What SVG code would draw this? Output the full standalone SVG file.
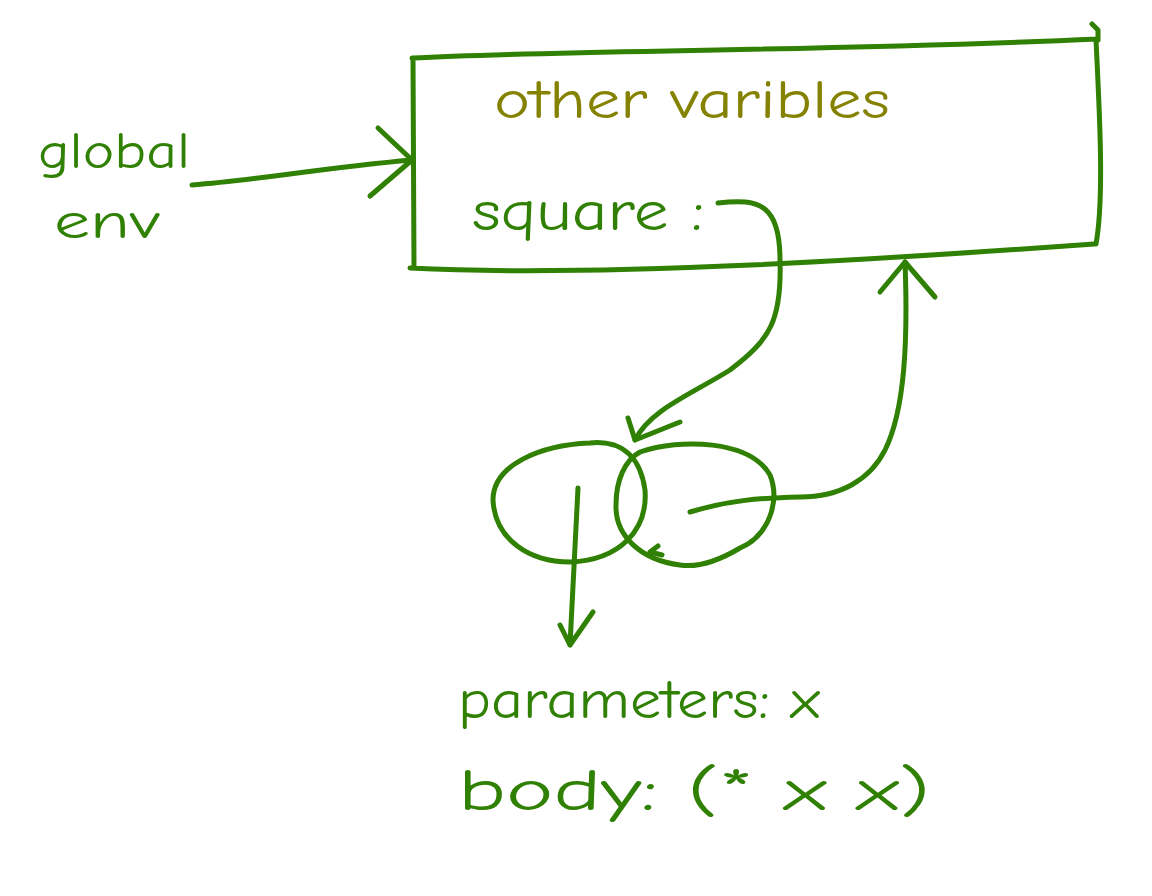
<svg xmlns="http://www.w3.org/2000/svg" width="1152" height="896" viewBox="0 0 1152 896">
<style>
.s{fill:none;stroke:#2f8003;stroke-width:5;stroke-linecap:round;stroke-linejoin:round}
.t{font-family:"Comic Neue","Liberation Sans",sans-serif;fill:#2f8003}
.o{fill:#848200}
</style>
<rect width="1152" height="896" fill="#ffffff"/>
<g id="global-env">
<text class="t" x="38" y="168" font-size="50" textLength="152" lengthAdjust="spacingAndGlyphs">global</text>
<text class="t" x="54" y="238" font-size="50" textLength="106" lengthAdjust="spacingAndGlyphs">env</text>
</g>
<g id="frame">
<path class="s" d="M412,58 C560,50 800,52 1098,39 M1092,24 L1098,30 L1098,40 M413,58 L414,268 M410,268 C600,278 900,258 1094,244 M1096,40 C1100,120 1104,200 1096,244"/>
<text class="t o" x="494" y="118" font-size="54" textLength="396" lengthAdjust="spacingAndGlyphs">other varibles</text>
<text class="t" x="472" y="230" font-size="56" textLength="232" lengthAdjust="spacingAndGlyphs">square :</text>
</g>
<g id="procedure">
<path class="s" d="M590,443 C620,440 640,455 645,490 C648,530 620,560 570,562 C530,562 495,540 493,500 C493,465 540,445 590,443 Z"/>
<path class="s" d="M640,452 C680,438 750,440 770,475 C780,500 770,535 740,548 C720,560 700,568 680,565 C640,560 615,535 616,505 C616,480 625,460 640,452"/>
<path class="s" d="M650,552 L658,546 M650,552 L662,555"/>
</g>
<g id="params">
<text class="t" x="458" y="718" font-size="54" textLength="362" lengthAdjust="spacingAndGlyphs">parameters: x</text>
<text class="t" x="458" y="810" font-size="58" textLength="472" lengthAdjust="spacingAndGlyphs">body: (* x x)</text>
</g>
<g id="connectors">
<path class="s" d="M192,185 C260,180 320,168 412,160"/>
<path class="s" d="M378,128 L412,160 L370,196"/>
<path class="s" d="M718,203 C760,198 780,205 780,260 C782,320 770,340 730,370 C690,395 650,410 635,440"/>
<path class="s" d="M628,418 L635,440 L680,422"/>
<path class="s" d="M578,488 L570,645"/>
<path class="s" d="M560,625 L570,645 L593,612"/>
<path class="s" d="M690,512 C730,500 760,498 800,497 C840,497 870,480 885,450 C905,410 908,340 905,262"/>
<path class="s" d="M880,292 L905,262 L935,297"/>
</g>
</svg>
